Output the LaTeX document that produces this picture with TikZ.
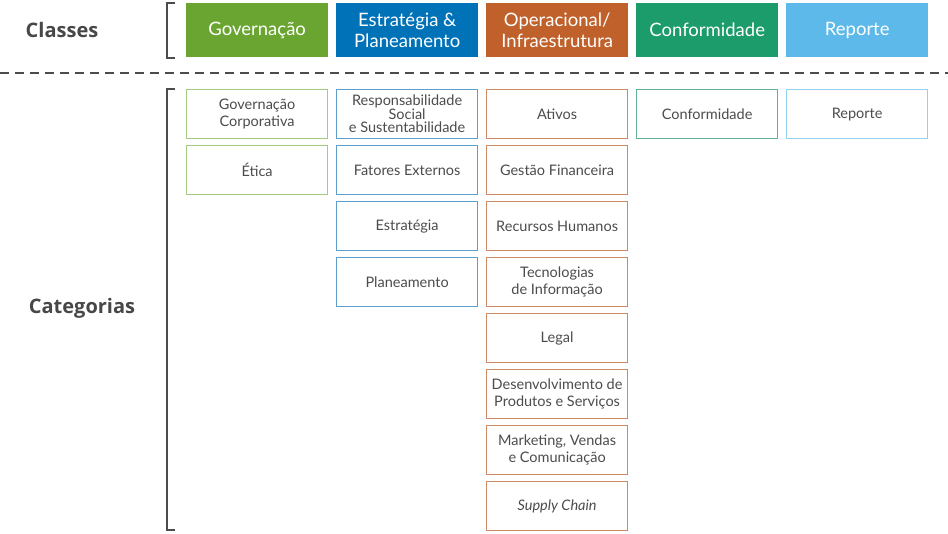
\documentclass[tikz,border=0pt]{standalone}
\usepackage{fontspec}
\setmainfont{Lato}
\newfontfamily\heavy{Open Sans}
\begin{document}
\begin{tikzpicture}[x=1pt,y=-1pt,
 cls/.style={minimum width=142pt,minimum height=54pt,inner sep=0pt,text=white,font=\fontsize{18.5}{21}\selectfont,align=center,anchor=north west},
 cat/.style={draw=#1,line width=1.2pt,fill=white,minimum width=141pt,minimum height=49pt,inner sep=0pt,text=black!70,font=\fontsize{14.5}{17}\selectfont,align=center,anchor=north west},
 lbl/.style={text=black!72,font=\heavy\bfseries\fontsize{20}{20}\selectfont}]
\useasboundingbox (0,0) rectangle (948,533);
\definecolor{cg}{HTML}{6AA532}\definecolor{cb}{HTML}{0072B8}\definecolor{co}{HTML}{C0612B}
\definecolor{ct}{HTML}{1C9B6B}\definecolor{cl}{HTML}{5DB9E9}
\definecolor{lg}{HTML}{A2CB82}\definecolor{lb}{HTML}{5E9FCC}\definecolor{lo}{HTML}{CC8A66}
\definecolor{lt}{HTML}{62B192}\definecolor{ll}{HTML}{92D2EE}
\node[lbl] (classes) at (62,30) {Classes};
\node[lbl] (categorias) at (82,308) {Categorias};
\draw[black!70,line width=1.5pt] (175,3) -- (167,3) -- (167,58) -- (175,58);
\draw[black!70,line width=1.5pt] (175,89) -- (167,89) -- (167,530) -- (175,530);
\draw[black!70,line width=1.5pt,dash pattern=on 9pt off 6pt] (0,73) -- (948,73);
\node[cls,fill=cg] (c1) at (186,3) {Governação};
\node[cls,fill=cb] (c2) at (336,3) {Estratégia \&\\Planeamento};
\node[cls,fill=co] (c3) at (486,3) {Operacional/\\Infraestrutura};
\node[cls,fill=ct] (c4) at (636,3) {Conformidade};
\node[cls,fill=cl] (c5) at (786,3) {Reporte};
\node[cat=lg] (g1) at (186,89) {Governação\\Corporativa};
\node[cat=lg] (g2) at (186,145) {Ética};
\node[cat=lb,font=\fontsize{14.5}{13.5}\selectfont] (e1) at (336,89) {Responsabilidade\\Social\\e Sustentabilidade};
\node[cat=lb] (e2) at (336,145) {Fatores Externos};
\node[cat=lb] (e3) at (336,201) {Estratégia};
\node[cat=lb] (e4) at (336,257) {Planeamento};
\node[cat=lo] (o1) at (486,89) {Ativos};
\node[cat=lo] (o2) at (486,145) {Gestão Financeira};
\node[cat=lo] (o3) at (486,201) {Recursos Humanos};
\node[cat=lo] (o4) at (486,257) {Tecnologias\\de Informação};
\node[cat=lo] (o5) at (486,313) {Legal};
\node[cat=lo] (o6) at (486,369) {Desenvolvimento de\\Produtos e Serviços};
\node[cat=lo] (o7) at (486,425) {Marketing, Vendas\\e Comunicação};
\node[cat=lo] (o8) at (486,481) {\itshape Supply Chain};
\node[cat=lt] (f1) at (636,89) {Conformidade};
\node[cat=ll] (r1) at (786,89) {Reporte};
\end{tikzpicture}
\end{document}
